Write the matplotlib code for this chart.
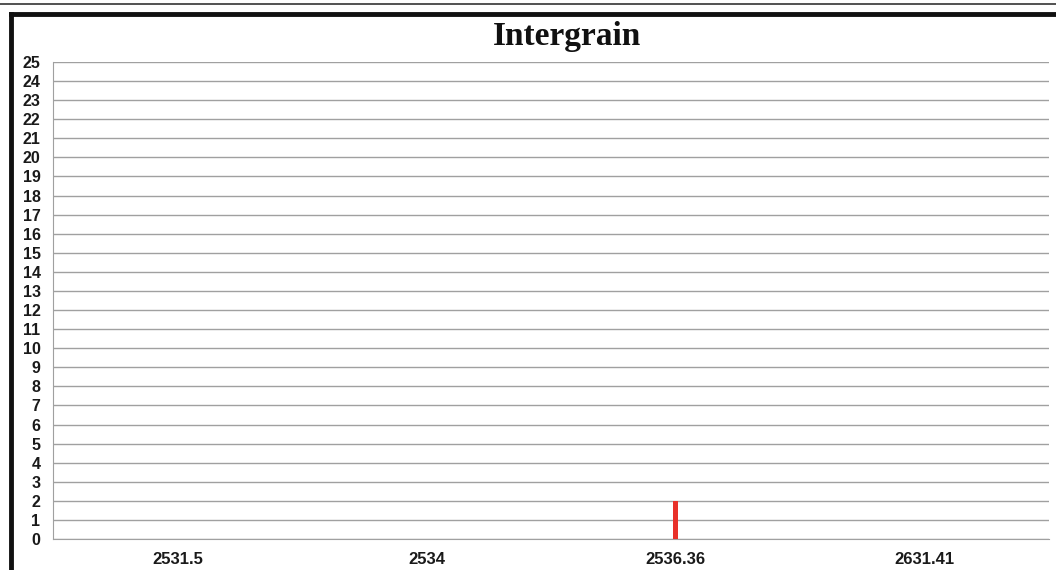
import matplotlib
matplotlib.use("Agg")
import matplotlib.pyplot as plt
from matplotlib.lines import Line2D

categories = ["2531.5", "2534", "2536.36", "2631.41"]
values = [0, 0, 2, 0]

W, H = 1056, 570
fig = plt.figure(figsize=(W / 100, H / 100), dpi=100)
ax = fig.add_axes([53 / W, (H - 539) / H, 996 / W, (539 - 62) / H])

x = list(range(len(categories)))
ax.bar(x, values, width=0.018, color="#e8312a", zorder=3)

ax.set_xlim(-0.5, len(categories) - 0.5)
ax.set_ylim(0, 25)
ax.set_yticks(range(0, 26))
ax.set_xticks(x)
ax.set_xticklabels(categories)
ax.yaxis.grid(True, color="#a0a0a0", linewidth=1.0, zorder=0)
ax.set_axisbelow(True)

for s in ["top", "right"]:
    ax.spines[s].set_visible(False)
ax.spines["left"].set_color("#a0a0a0")
ax.spines["bottom"].set_color("#a0a0a0")
ax.tick_params(length=0)
ax.tick_params(axis="y", pad=9)
ax.tick_params(axis="x", pad=9)
for lab in ax.get_xticklabels():
    lab.set_fontfamily("Liberation Sans")
    lab.set_fontweight("bold")
    lab.set_fontsize(12)
    lab.set_color("#1a1a1a")
for lab in ax.get_yticklabels():
    lab.set_fontfamily("Liberation Sans")
    lab.set_fontweight("bold")
    lab.set_fontsize(11.5)
    lab.set_color("#1a1a1a")

fig.text(567 / W, 1 - 37 / H, "Intergrain", ha="center", va="center",
         fontsize=24, fontweight="bold", family="Liberation Serif", color="#111111")

# frame lines around the picture
fig.add_artist(Line2D([0, 1], [1 - 4 / H, 1 - 4 / H], transform=fig.transFigure,
                      color="#333333", linewidth=1.2))
fig.add_artist(Line2D([11 / W, 1], [1 - 14 / H, 1 - 14 / H], transform=fig.transFigure,
                      color="#111111", linewidth=3.5))
fig.add_artist(Line2D([11 / W, 11 / W], [0, 1 - 14 / H], transform=fig.transFigure,
                      color="#111111", linewidth=3.5))

fig.savefig("out.png", dpi=100)
